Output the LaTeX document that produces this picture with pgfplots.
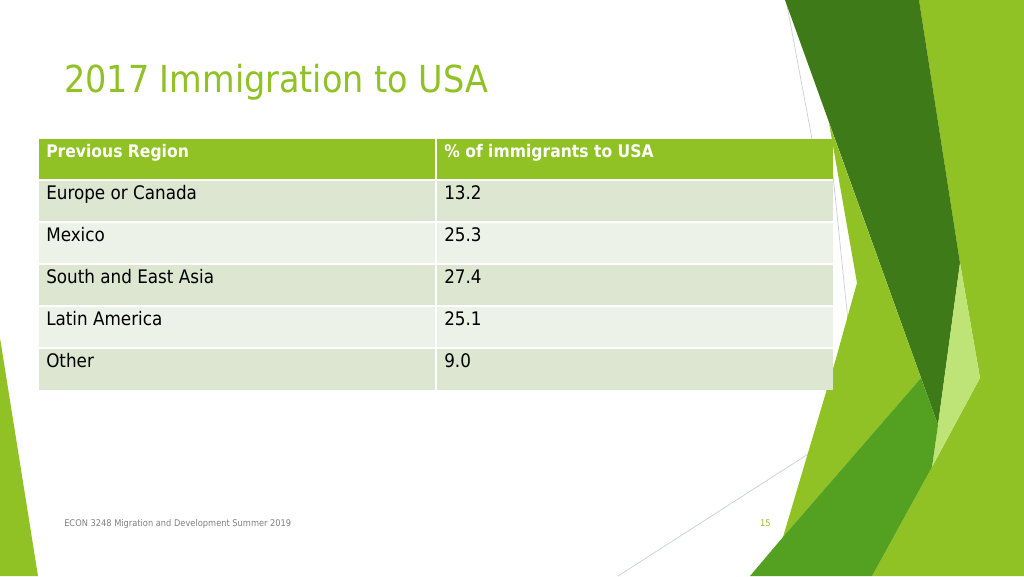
\documentclass[border=0pt]{standalone}
\usepackage{pgfplots}
\pgfplotsset{compat=1.18}
\usepackage{pgfplotstable}
\usepackage{fontspec}
\setmainfont{DejaVu Sans Condensed}
\definecolor{accA}{HTML}{90C226}
\definecolor{accB}{HTML}{54A021}
\definecolor{darkG}{HTML}{3F7A19}
\definecolor{lightG}{HTML}{BEE478}
\definecolor{rowA}{HTML}{DCE6D0}
\definecolor{rowB}{HTML}{EDF2E9}
\definecolor{thinline}{HTML}{C9CDD6}
\definecolor{foot}{HTML}{808080}

% text positions in slide pixels (y downwards)
\pgfplotstableread[col sep=comma]{
x,y,label
46,199,Europe or Canada
46,241,Mexico
46,283,South and East Asia
46,325,Latin America
46,367,Other
}\regions
\pgfplotstableread[col sep=comma]{
x,y,value
444,199,13.2
444,241,25.3
444,283,27.4
444,325,25.1
444,367,9.0
}\shares

\begin{document}
\begin{tikzpicture}
\begin{axis}[hide axis, scale only axis, width=768pt, height=432pt,
  xmin=0, xmax=1024, ymin=0, ymax=576, y dir=reverse, clip=true]
% background
\fill[white] (axis cs:0,0) rectangle (axis cs:1024,576);
% thin decorative lines
\draw[draw=thinline, line width=0.5pt] (axis cs:786,0) -- (axis cs:812,139) -- (axis cs:833,175) -- (axis cs:852,360);
\draw[draw=thinline, line width=0.5pt] (axis cs:618,576) -- (axis cs:830,440);
% left triangle
\fill[accA] (axis cs:0,338) -- (axis cs:38,576) -- (axis cs:0,576) -- cycle;
% right shapes
\fill[accA] (axis cs:919,0) -- (axis cs:1024,0) -- (axis cs:1024,576) -- (axis cs:872,576) -- (axis cs:932,467) -- (axis cs:980,378) -- (axis cs:960,263) -- cycle;
\fill[darkG] (axis cs:785,0) -- (axis cs:919,0) -- (axis cs:960,263) -- (axis cs:938,425) -- cycle;
\fill[lightG] (axis cs:960,263) -- (axis cs:980,378) -- (axis cs:932,467) -- (axis cs:938,425) -- cycle;
\fill[accA] (axis cs:829,123) -- (axis cs:857,283) -- (axis cs:855,290) -- (axis cs:835,362) -- (axis cs:783,537) -- (axis cs:921,378) -- cycle;
\fill[accB] (axis cs:783,537) -- (axis cs:921,378) -- (axis cs:938,425) -- (axis cs:932,467) -- (axis cs:872,576) -- (axis cs:750,576) -- cycle;
% table
\fill[accA] (axis cs:39,139) rectangle (axis cs:833,179);
\fill[rowA] (axis cs:39,181) rectangle (axis cs:833,221);
\fill[rowB] (axis cs:39,223) rectangle (axis cs:833,263);
\fill[rowA] (axis cs:39,265) rectangle (axis cs:833,305);
\fill[rowB] (axis cs:39,307) rectangle (axis cs:833,347);
\fill[rowA] (axis cs:39,349) rectangle (axis cs:833,390);
\draw[white, line width=1.2pt] (axis cs:436,139) -- (axis cs:436,390);
% title
\node[anchor=base west, inner sep=0pt, text=accA, font=\fontsize{27.9}{33}\selectfont] at (axis cs:64,92) {2017 Immigration to USA};
% header
\node[anchor=base west, inner sep=0pt, text=white, font=\fontsize{13}{16}\selectfont\bfseries] at (axis cs:46,157) {Previous Region};
\node[anchor=base west, inner sep=0pt, text=white, font=\fontsize{13}{16}\selectfont\bfseries] at (axis cs:444,157) {\% of immigrants to USA};
% body
\addplot[draw=none, mark=none, nodes near coords, point meta=explicit symbolic,
  nodes near coords style={anchor=base west, inner sep=0pt, text=black, font=\fontsize{14}{16}\selectfont}]
  table[x=x, y=y, meta=label] {\regions};
\addplot[draw=none, mark=none, nodes near coords, point meta=explicit symbolic,
  nodes near coords style={anchor=base west, inner sep=0pt, text=black, font=\fontsize{14}{16}\selectfont}]
  table[x=x, y=y, meta=value] {\shares};
% footer
\node[anchor=base west, inner sep=0pt, text=foot, font=\fontsize{6.9}{8}\selectfont] at (axis cs:64,526) {ECON 3248 Migration and Development Summer 2019};
\node[anchor=base east, inner sep=0pt, text=accA, font=\fontsize{6.9}{8}\selectfont] at (axis cs:771,526) {15};
\end{axis}
\end{tikzpicture}
\end{document}
